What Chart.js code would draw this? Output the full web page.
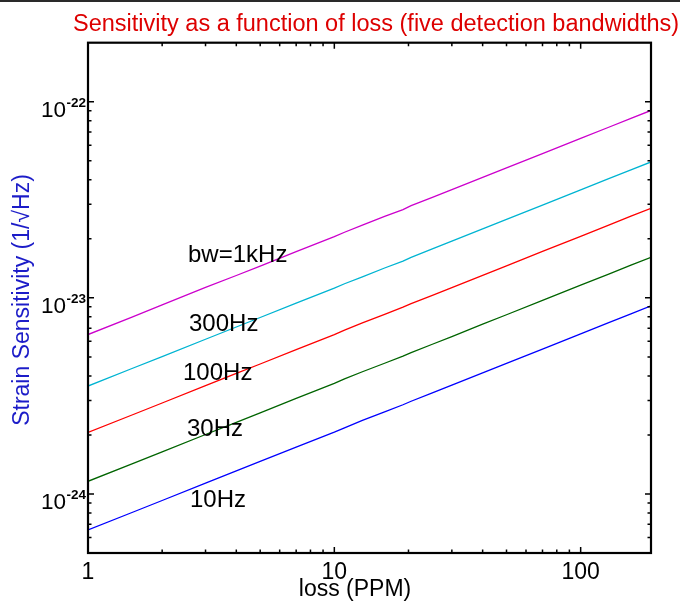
<!DOCTYPE html>
<html>
<head>
<meta charset="utf-8">
<script src="https://cdn.jsdelivr.net/npm/chart.js@4.4.1/dist/chart.umd.min.js"></script>
<style>
  html, body { margin: 0; padding: 0; background: #ffffff; }
  canvas { display: block; }
</style>
</head>
<body>
<canvas id="c" width="680" height="603"></canvas>
<script>
// ---- data ----
const lossPPM = [1, 1.5, 2, 3, 4, 5, 7, 10, 11, 13, 16, 19, 20.5, 25, 30, 40, 50, 70, 100, 130, 160, 193];
const bw1kHz = [6.5e-24, 7.96e-24, 9.2e-24, 1.13e-23, 1.30e-23, 1.45e-23, 1.72e-23, 2.05e-23, 2.16e-23, 2.35e-23, 2.60e-23, 2.82e-23, 2.95e-23, 3.25e-23, 3.56e-23, 4.11e-23, 4.6e-23, 5.44e-23, 6.5e-23, 7.41e-23, 8.22e-23, 9.03e-23];
const bw300Hz = [3.55e-24, 4.35e-24, 5.02e-24, 6.15e-24, 7.1e-24, 7.94e-24, 9.39e-24, 1.12e-23, 1.18e-23, 1.28e-23, 1.42e-23, 1.54e-23, 1.61e-23, 1.775e-23, 1.945e-23, 2.245e-23, 2.51e-23, 2.97e-23, 3.55e-23, 4.05e-23, 4.49e-23, 4.93e-23];
const bw100Hz = [2.06e-24, 2.52e-24, 2.91e-24, 3.57e-24, 4.12e-24, 4.6e-24, 5.45e-24, 6.5e-24, 6.85e-24, 7.45e-24, 8.24e-24, 8.96e-24, 9.35e-24, 1.03e-23, 1.128e-23, 1.303e-23, 1.457e-23, 1.724e-23, 2.06e-23, 2.35e-23, 2.61e-23, 2.86e-23];
const bw30Hz = [1.16e-24, 1.42e-24, 1.64e-24, 2.01e-24, 2.32e-24, 2.59e-24, 3.07e-24, 3.66e-24, 3.86e-24, 4.2e-24, 4.64e-24, 5.05e-24, 5.26e-24, 5.8e-24, 6.35e-24, 7.34e-24, 8.2e-24, 9.71e-24, 1.16e-23, 1.322e-23, 1.467e-23, 1.61e-23];
const bw10Hz = [6.55e-25, 8.02e-25, 9.26e-25, 1.135e-24, 1.31e-24, 1.465e-24, 1.733e-24, 2.065e-24, 2.175e-24, 2.37e-24, 2.62e-24, 2.85e-24, 2.97e-24, 3.275e-24, 3.59e-24, 4.14e-24, 4.63e-24, 5.48e-24, 6.55e-24, 7.47e-24, 8.28e-24, 9.1e-24];

const seriesNames = ['bw=1kHz', '300Hz', '100Hz', '30Hz', '10Hz'];
const xTickLabels = ['1', '10', '100'];
const xTickValues = [1, 10, 100];
const yTickExponents = ['-24', '-23', '-22'];
const yTickValues = [1e-24, 1e-23, 1e-22];

const titleText = 'Sensitivity as a function of loss (five detection bandwidths)';
const xTitleText = 'loss (PPM)';
const yTitleText = 'Strain Sensitivity (1/\u221AHz)';

// ---- styling ----
const colors = ['#cc00cc', '#00b4d2', '#ff0000', '#006400', '#0000ff'];
const seriesValues = [bw1kHz, bw300Hz, bw100Hz, bw30Hz, bw10Hz];
const FONT = '"Liberation Sans", Arial, Helvetica, sans-serif';

// label placement (pixel positions of curve annotations, left x, baseline y)
const labelPos = [[188, 262], [189, 331], [183, 380], [187, 436], [190, 507]];

const datasets = seriesNames.map((name, i) => ({
  label: name,
  data: lossPPM.map((x, j) => ({ x: x, y: seriesValues[i][j] })),
  borderColor: colors[i],
  backgroundColor: colors[i],
  borderWidth: 1.3,
  pointRadius: 0,
  tension: 0,
  fill: false
}));

const decorPlugin = {
  id: 'decor',
  beforeDraw(chart) {
    const ctx = chart.ctx;
    ctx.save();
    ctx.fillStyle = '#ffffff';
    ctx.fillRect(0, 0, chart.width, chart.height);
    ctx.fillStyle = '#2a2a2a';
    ctx.fillRect(0, 0, chart.width, 2);
    ctx.restore();
  },
  afterDraw(chart) {
    const ctx = chart.ctx;
    const a = chart.chartArea;
    const xs = chart.scales.x, ys = chart.scales.y;
    ctx.save();
    // ticks (inward, all four sides)
    ctx.strokeStyle = '#000';
    ctx.lineWidth = 1.5;
    const xmin = xs.min, xmax = xs.max;
    for (let d = 1; d <= 1000; d *= 10) {
      for (let m = 1; m <= 9; m++) {
        const v = m * d;
        if (v <= xmin || v >= xmax) continue;
        const px = xs.getPixelForValue(v);
        const len = (m === 1) ? 6 : 3.5;
        ctx.beginPath();
        ctx.moveTo(px, a.bottom); ctx.lineTo(px, a.bottom - len);
        ctx.moveTo(px, a.top); ctx.lineTo(px, a.top + len);
        ctx.stroke();
      }
    }
    for (let d = 1e-26; d <= 1e-21; d *= 10) {
      for (let m = 1; m <= 9; m++) {
        const v = m * d;
        if (v <= ys.min * 1.0001 || v >= ys.max * 0.9999) continue;
        const py = ys.getPixelForValue(v);
        const len = (m === 1) ? 6 : 3.5;
        ctx.beginPath();
        ctx.moveTo(a.left, py); ctx.lineTo(a.left + len, py);
        ctx.moveTo(a.right, py); ctx.lineTo(a.right - len, py);
        ctx.stroke();
      }
    }
    // frame
    ctx.lineWidth = 2.2;
    ctx.strokeRect(a.left, a.top, a.right - a.left, a.bottom - a.top);

    // title
    ctx.fillStyle = '#dd0000';
    ctx.font = '23.5px ' + FONT;
    ctx.textAlign = 'left';
    ctx.textBaseline = 'alphabetic';
    ctx.fillText(titleText, 73, 31);

    // x tick labels
    ctx.fillStyle = '#000';
    ctx.font = '23px ' + FONT;
    ctx.textAlign = 'center';
    xTickValues.forEach((v, i) => {
      ctx.fillText(xTickLabels[i], xs.getPixelForValue(v), 579);
    });
    // x title
    ctx.fillText(xTitleText, 355, 596);

    // y tick labels
    yTickValues.forEach((v, i) => {
      const py = ys.getPixelForValue(v);
      ctx.textAlign = 'right';
      ctx.font = '22.5px ' + FONT;
      ctx.fillText('10', 66, py + 15);
      ctx.font = 'bold 13.5px ' + FONT;
      ctx.fillText(yTickExponents[i], 86, py + 5);
    });

    // y title
    ctx.save();
    ctx.translate(29, 300);
    ctx.rotate(-Math.PI / 2);
    ctx.fillStyle = '#1c1cc8';
    ctx.font = '23px ' + FONT;
    ctx.textAlign = 'center';
    ctx.fillText(yTitleText, 0, 0);
    ctx.restore();

    // curve labels
    ctx.fillStyle = '#000';
    ctx.font = '24px ' + FONT;
    ctx.textAlign = 'left';
    seriesNames.forEach((n, i) => {
      ctx.fillText(n, labelPos[i][0], labelPos[i][1]);
    });
    ctx.restore();
  }
};

new Chart(document.getElementById('c'), {
  type: 'line',
  data: { datasets: datasets },
  options: {
    responsive: false,
    devicePixelRatio: 1,
    animation: false,
    layout: { padding: { left: 88, right: 29, top: 42.7, bottom: 50 } },
    plugins: { legend: { display: false }, tooltip: { enabled: false }, title: { display: false } },
    scales: {
      x: { type: 'logarithmic', min: 1, max: 193, display: false },
      y: { type: 'logarithmic', min: 5e-25, max: 2e-22, display: false }
    }
  },
  plugins: [decorPlugin]
});
</script>
</body>
</html>
